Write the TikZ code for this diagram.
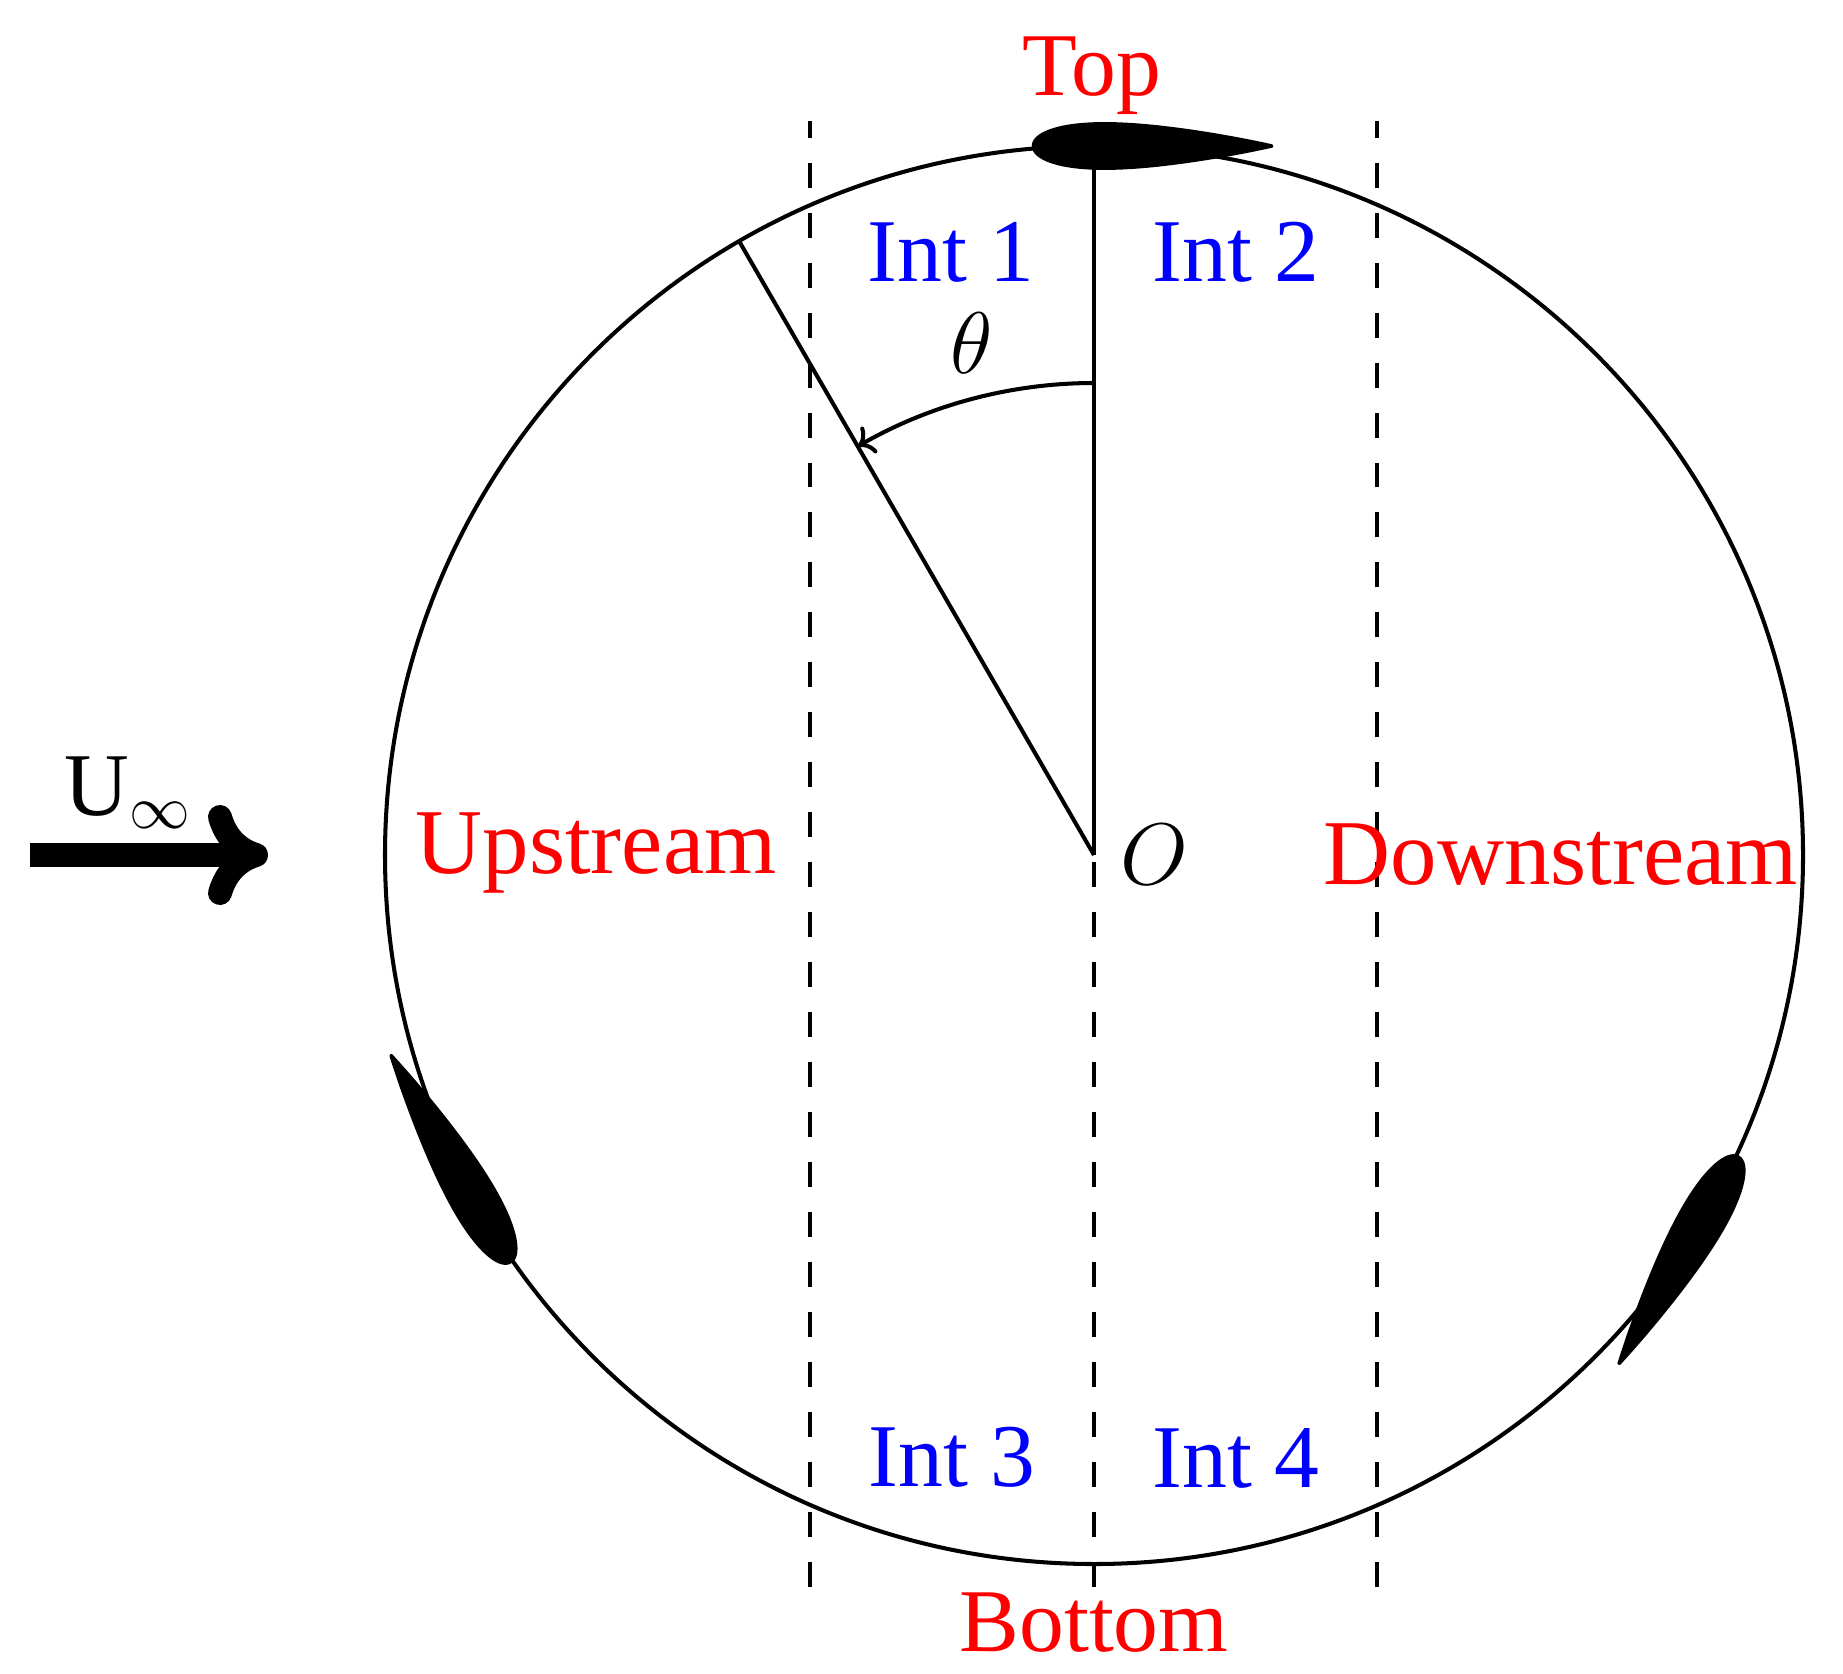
\documentclass[tikz,border=0pt]{standalone}
\usepackage{fontspec}
\setmainfont{Liberation Serif}
\usetikzlibrary{arrows.meta}

\tikzset{
    declare function={halfthick(\t)=0.19*5*(0.2969*\t-0.126*\t*\t-0.3516*\t*\t*\t*\t+0.2843*\t*\t*\t*\t*\t*\t-0.1015*\t*\t*\t*\t*\t*\t*\t*\t);},
    thinline/.style={line width=1.15pt},
    zoneline/.style={thinline, dash pattern=on 7.11pt off 7.11pt},
    zonelabel/.style={text=red, font=\fontsize{25.5}{30}\selectfont, anchor=base, inner sep=0pt},
    widelabel/.style={zonelabel, font=\fontsize{26.4}{30}\selectfont},
    intlabel/.style={text=blue, font=\fontsize{25.5}{30}\selectfont, anchor=base, inner sep=0pt},
    blacklabel/.style={font=\fontsize{25.5}{30}\selectfont, inner sep=0pt},
}

\begin{document}
\begin{tikzpicture}
    \useasboundingbox (0, 0) rectangle (18.43, 16.73);

    % Define the centre and the line ends
    \coordinate (O) at (10.94, 8.18);
    \coordinate (topEnd) at (10.94, 15.27);
    \coordinate (armEnd) at (7.39, 14.32);
    \coordinate (arcStart) at (10.94, 12.90);
    \coordinate (midBottom) at (10.94, 0.86);
    \coordinate (leftTop) at (8.10, 15.52);
    \coordinate (leftBottom) at (8.10, 0.86);
    \coordinate (rightTop) at (13.765, 15.52);
    \coordinate (rightBottom) at (13.765, 0.86);
    \coordinate (flowStart) at (0.30, 8.18);
    \coordinate (flowEnd) at (2.68, 8.18);

    % Turbine path
    \draw[thinline] (O) circle (7.09);

    % Add the dashed lines between the zones
    \draw[zoneline] (leftBottom) -- (leftTop);
    \draw[zoneline] (rightBottom) -- (rightTop);
    \draw[zoneline] (midBottom) -- (O);

    % Azimuth angle
    \draw[thinline] (O) -- (topEnd);
    \draw[thinline] (O) -- (armEnd);
    \draw[thinline, ->] (arcStart) arc (90:120:4.72);

    % Plot the three blades
    \foreach \a in {0, 120, 240} {
        \begin{scope}[rotate around={\a:(O)}, shift={(10.33, 15.27)}]
            \fill[line width=0.7pt, draw=black, line join=round, domain=0:1, samples=60]
                plot ({2.39*\x*\x}, {2.39*halfthick(\x)})
                -- plot[domain=1:0] ({2.39*\x*\x}, {-2.39*halfthick(\x)}) -- cycle;
        \end{scope}
    }

    % Free stream arrow
    \draw[line width=6.8pt, -{To[length=6mm, width=10mm]}] (flowStart) -- (flowEnd);
    \node[blacklabel, anchor=base west] (flowLabel) at (0.64, 8.58) {U$_\infty$};

    % Add labels
    \node[zonelabel] (topLabel) at (10.92, 15.77) {Top};
    \node[zonelabel] (bottomLabel) at (10.94, 0.22) {Bottom};
    \node[widelabel] (upLabel) at (5.96, 8.00) {Upstream};
    \node[widelabel] (downLabel) at (15.61, 7.89) {Downstream};
    \node[intlabel] (intOne) at (9.51, 13.91) {Int 1};
    \node[intlabel] (intTwo) at (12.36, 13.91) {Int 2};
    \node[intlabel] (intThree) at (9.52, 1.87) {Int 3};
    \node[intlabel] (intFour) at (12.36, 1.86) {Int 4};
    \node[blacklabel] (thetaLabel) at (9.72, 13.30) {$\theta$};
    \node[blacklabel] (centreLabel) at (11.54, 8.18) {$O$};
\end{tikzpicture}
\end{document}
